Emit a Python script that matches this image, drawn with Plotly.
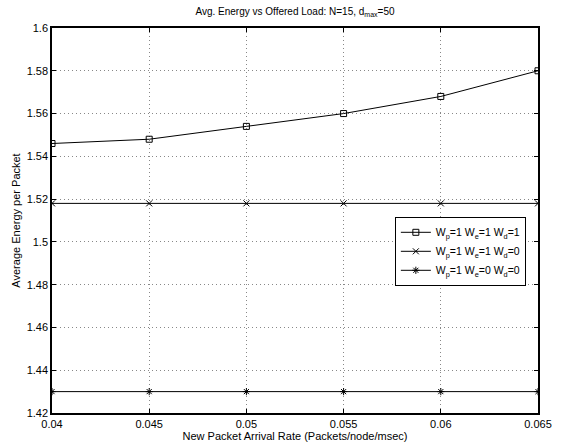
import plotly.graph_objects as go

x_rate = [0.04, 0.045, 0.05, 0.055, 0.06, 0.065]
energy_111 = [1.546, 1.548, 1.554, 1.560, 1.568, 1.580]
energy_110 = [1.518, 1.518, 1.518, 1.518, 1.518, 1.518]
energy_100 = [1.430, 1.430, 1.430, 1.430, 1.430, 1.430]
names = ["W<sub>p</sub>=1 W<sub>e</sub>=1 W<sub>d</sub>=1",
         "W<sub>p</sub>=1 W<sub>e</sub>=1 W<sub>d</sub>=0",
         "W<sub>p</sub>=1 W<sub>e</sub>=0 W<sub>d</sub>=0"]
x_ticks = [0.04, 0.045, 0.05, 0.055, 0.06, 0.065]
y_ticks = [1.42, 1.44, 1.46, 1.48, 1.5, 1.52, 1.54, 1.56, 1.58, 1.6]

font = "Liberation Sans, Arial, sans-serif"
fig = go.Figure()
symbols = ["square-open", "x-thin-open", "asterisk-open"]
for ys, nm, sym in zip([energy_111, energy_110, energy_100], names, symbols):
    fig.add_trace(go.Scatter(
        x=x_rate, y=ys, name=nm, mode="lines+markers",
        line=dict(color="black", width=1),
        marker=dict(symbol=sym, size=6, color="black", line=dict(color="black", width=1)),
    ))

axis_common = dict(
    showline=True, linecolor="black", linewidth=1.5, mirror="ticks",
    ticks="inside", ticklen=4, tickcolor="black",
    showgrid=True, gridcolor="#888888", griddash="1px,3px", gridwidth=1,
    zeroline=False, automargin=False,
    tickfont=dict(size=11, color="black", family=font),
)
fig.update_xaxes(range=[0.04, 0.065], tickvals=x_ticks,
                 ticktext=[f"{v:g}" for v in x_ticks],
                 title=dict(text="New Packet Arrival Rate (Packets/node/msec)", standoff=2,
                            font=dict(size=11, color="black", family=font)),
                 **axis_common)
fig.update_yaxes(range=[1.42, 1.6], tickvals=y_ticks,
                 ticktext=[f"{v:g}" for v in y_ticks],
                 title=dict(text="Average Energy per Packet", standoff=4,
                            font=dict(size=11, color="black", family=font)),
                 **axis_common)

fig.update_layout(
    width=561, height=445,
    margin=dict(l=52, r=23, t=28, b=32),
    paper_bgcolor="white", plot_bgcolor="white",
    font=dict(family=font, size=11, color="black"),
    title=dict(text="Avg. Energy vs Offered Load: N=15, d<sub>max</sub>=50",
               x=0.5, xanchor="center", xref="paper", y=1 - 11 / 445, yanchor="middle",
               font=dict(size=10, color="black", family=font)),
    legend=dict(x=0.975, xanchor="right", y=0.42, yanchor="middle",
                bgcolor="white", bordercolor="black", borderwidth=1,
                font=dict(size=10.5, family=font), tracegroupgap=0,
                itemwidth=30),
    showlegend=True,
)

fig.write_html("out.html",
               config={"displayModeBar": False},
               post_script="document.body.style.margin='0px';document.body.style.overflow='hidden';")
